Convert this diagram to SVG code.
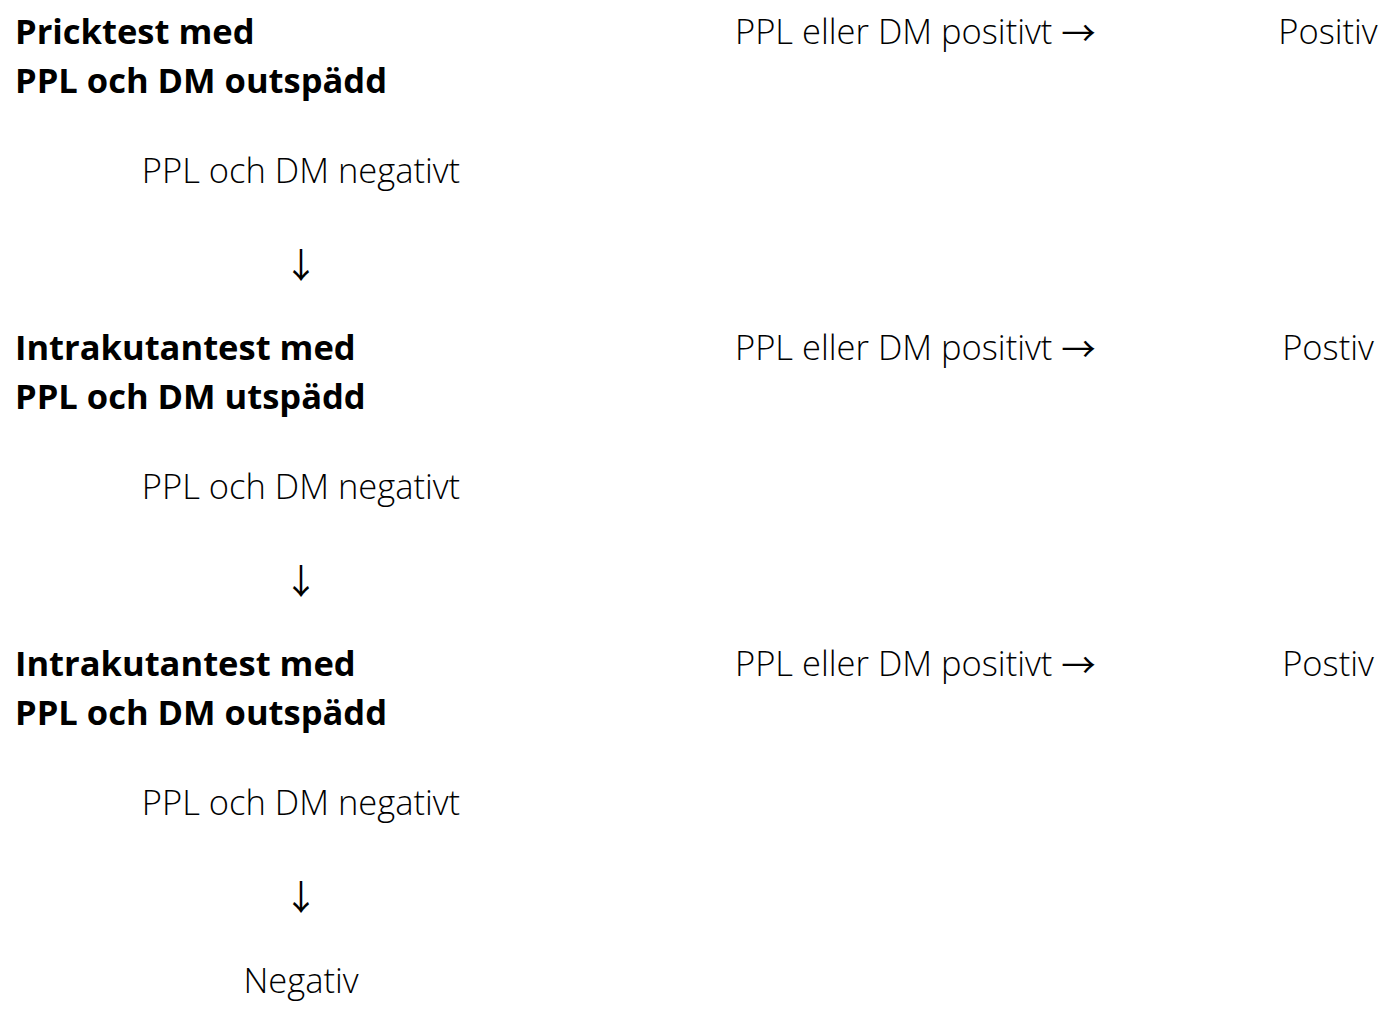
<svg xmlns="http://www.w3.org/2000/svg" width="1400" height="1020" viewBox="0 0 1400 1020">
<style>
text{font-family:"Open Sans","Noto Sans","Liberation Sans",sans-serif;font-size:34.5px;fill:#000}
.b{font-weight:700}
.l{font-weight:300}
.c{text-anchor:middle}
.a{font-family:"Noto Sans CJK SC",sans-serif;font-weight:normal}
</style>
<rect width="1400" height="1020" fill="#fff"/>
<g id="step1">
<text class="b" x="15" y="44">Pricktest med</text>
<text class="b" x="15" y="93">PPL och DM outspädd</text>
</g>
<g id="pos1"><text class="l" x="735" y="44">PPL eller DM positivt <tspan class="a" dy="2">→</tspan></text></g>
<g id="res1"><text class="l c" x="1328" y="44">Positiv</text></g>
<g id="neg1"><text class="l c" x="301" y="183">PPL och DM negativt</text></g>
<g id="step2">
<text class="b" x="15" y="360">Intrakutantest med</text>
<text class="b" x="15" y="409">PPL och DM utspädd</text>
</g>
<g id="pos2"><text class="l" x="735" y="360">PPL eller DM positivt <tspan class="a" dy="2">→</tspan></text></g>
<g id="res2"><text class="l c" x="1328" y="360">Postiv</text></g>
<g id="neg2"><text class="l c" x="301" y="499">PPL och DM negativt</text></g>
<g id="step3">
<text class="b" x="15" y="676">Intrakutantest med</text>
<text class="b" x="15" y="725">PPL och DM outspädd</text>
</g>
<g id="pos3"><text class="l" x="735" y="676">PPL eller DM positivt <tspan class="a" dy="2">→</tspan></text></g>
<g id="res3"><text class="l c" x="1328" y="676">Postiv</text></g>
<g id="neg3"><text class="l c" x="301" y="815">PPL och DM negativt</text></g>
<g id="final"><text class="l c" x="301" y="993">Negativ</text></g>
<g id="connectors">
<text class="a c" x="301" y="278">↓</text>
<text class="a c" x="301" y="594">↓</text>
<text class="a c" x="301" y="910">↓</text>
</g>
</svg>
